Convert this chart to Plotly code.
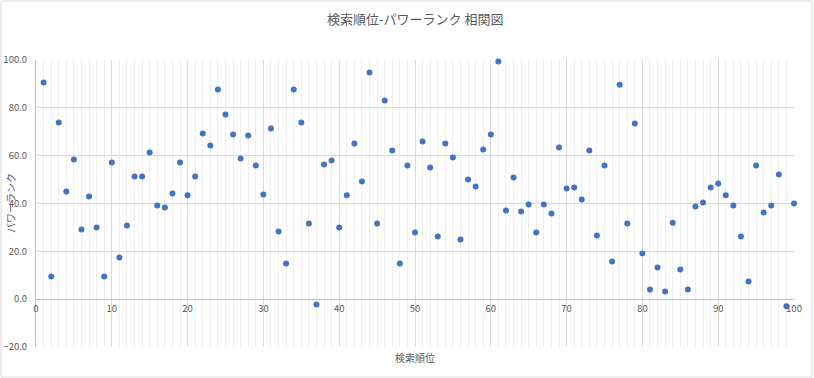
import plotly.graph_objects as go

ranks = list(range(1, 101))
power = [
    90.6, 9.5, 73.9, 45.0, 58.4, 29.1, 42.9, 30.0, 9.5, 57.1,
    17.4, 30.8, 51.3, 51.3, 61.3, 39.2, 38.3, 44.2, 57.1, 43.4,
    51.3, 69.3, 64.3, 87.7, 77.2, 68.9, 58.8, 68.4, 55.9, 43.8,
    71.4, 28.3, 14.9, 87.7, 73.9, 31.6, -2.2, 56.3, 58.0, 30.0,
    43.4, 65.1, 49.2, 94.8, 31.6, 83.1, 62.2, 14.9, 55.9, 27.9,
    65.9, 55.1, 26.2, 65.1, 59.2, 25.0, 50.0, 47.1, 62.6, 68.9,
    99.4, 37.1, 50.9, 36.7, 39.6, 27.9, 39.6, 35.8, 63.4, 46.3,
    46.7, 41.7, 62.2, 26.6, 55.9, 15.8, 89.7, 31.6, 73.4, 19.1,
    4.0, 13.2, 3.2, 32.0, 12.4, 4.0, 38.7, 40.4, 46.7, 48.4,
    43.4, 39.2, 26.2, 7.4, 55.9, 36.2, 39.2, 52.1, -3.0, 40.0,
]
x_ticks = [0, 10, 20, 30, 40, 50, 60, 70, 80, 90, 100]
y_ticks = [-20, 0, 20, 40, 60, 80, 100]

title_text = "検索順位-パワーランク 相関図"
x_title = "検索順位"
y_title = "パワーランク"

FONT = "Noto Sans CJK JP"
GRAY = "#595959"

fig = go.Figure(go.Scatter(
    x=ranks, y=power, mode="markers",
    marker=dict(color="#4472C4", size=6, line=dict(width=0)),
    hoverinfo="x+y", cliponaxis=False,
))

W, H = 814, 378
L, R, T, B = 36, 20, 60, 31
pw, ph = W - L - R, H - T - B

def px_x(p):
    return (p - L) / pw

def px_y(p):
    return (H - B - p) / ph

fig.update_layout(
    width=W, height=H,
    margin=dict(l=L, r=R, t=T, b=B, pad=0, autoexpand=False),
    paper_bgcolor="white", plot_bgcolor="white",
    showlegend=False,
    font=dict(family=FONT, color=GRAY, size=10),
    xaxis=dict(
        range=[0, 100], tickvals=x_ticks, ticktext=[str(v) for v in x_ticks],
        showgrid=True, gridcolor="#d9d9d9", gridwidth=1,
        minor=dict(dtick=1, showgrid=True, gridcolor="#eeeeee", gridwidth=1, ticks=""),
        anchor="free", position=20 / 120,
        showline=True, linecolor="#bfbfbf", linewidth=1,
        ticks="", zeroline=False, automargin=False,
        tickfont=dict(family=FONT, color=GRAY, size=9.5),
    ),
    yaxis=dict(
        range=[-20, 100], tickvals=y_ticks, tickformat=".1f",
        showgrid=True, gridcolor="#d9d9d9", gridwidth=1,
        zeroline=False, showline=True, linecolor="#bfbfbf", linewidth=1,
        ticks="", ticklabelstandoff=6, automargin=False,
        tickfont=dict(family=FONT, color=GRAY, size=9.5),
        domain=[0, 1],
    ),
    annotations=[
        dict(text=title_text, xref="paper", yref="paper",
             x=px_x(415), y=px_y(18), showarrow=False,
             xanchor="center", yanchor="middle",
             font=dict(family=FONT, size=13, color=GRAY)),
        dict(text=x_title, xref="paper", yref="paper",
             x=px_x(415), y=px_y(357), showarrow=False,
             xanchor="center", yanchor="middle",
             font=dict(family=FONT, size=10, color=GRAY)),
        dict(text=y_title, xref="paper", yref="paper",
             x=px_x(10), y=px_y(203), showarrow=False, textangle=-90,
             xanchor="center", yanchor="middle",
             font=dict(family=FONT, size=10, color=GRAY)),
    ],
    shapes=[
        dict(type="rect", xref="paper", yref="paper",
             x0=px_x(1), x1=px_x(812), y0=px_y(377), y1=px_y(1),
             line=dict(color="#d9d9d9", width=1), layer="below"),
    ],
)

fig.write_html(
    "out.html",
    config={"displayModeBar": False},
    post_script="document.body.style.margin='0';document.body.style.overflow='hidden';",
)
